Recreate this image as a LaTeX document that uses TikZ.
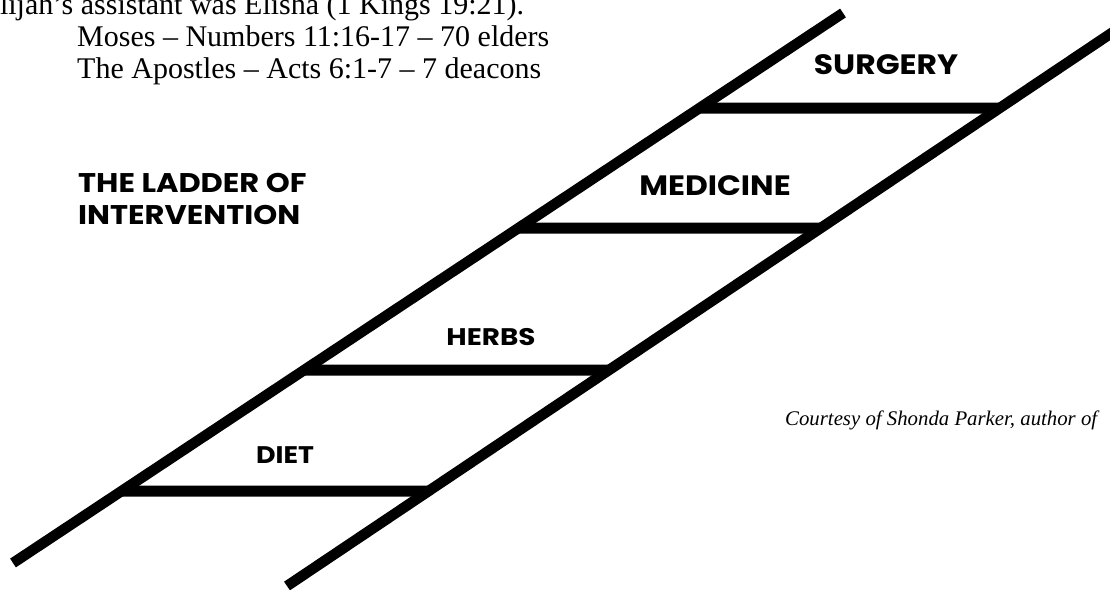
\documentclass[tikz,border=0pt]{standalone}
\usepackage{fontspec}
\usepackage{graphicx}
\setmainfont{Liberation Serif}
\newfontfamily\labelfont{Poppins}
\usetikzlibrary{calc}
\tikzset{
  rail/.style={line width=10.5pt, line cap=butt},
  rungline/.style={line width=11pt, line cap=butt},
  toptext/.style={anchor=base west, inner sep=0pt, font=\fontsize{30}{32}\selectfont},
  steplabel/.style={anchor=base, inner sep=0pt},
  titletext/.style={anchor=base west, inner sep=0pt, font=\labelfont\bfseries\fontsize{27}{32}\selectfont},
  credit/.style={anchor=base west, inner sep=0pt, font=\fontsize{20.8}{24}\selectfont\itshape}
}
\begin{document}
\begin{tikzpicture}[x=1pt,y=-1pt]
\useasboundingbox (0,0) rectangle (1110,589);
\fill[white] (0,0) rectangle (1110,589);
% rails
\coordinate (Lb) at (13,563);
\coordinate (Lt) at (843,13);
\coordinate (Rb) at (287,586);
\coordinate (Rt) at (1125,24);
\draw[rail] (Lb) -- (Lt);
\draw[rail] (Rb) -- (Rt);
% rung endpoints on the rails
\foreach \n/\y in {1/491,2/370,3/228,4/108}{
  \coordinate (A\n) at ($(Lb)!{(563-\y)/550}!(Lt)$);
  \coordinate (B\n) at ($(Rb)!{(586-\y)/562}!(Rt)$);
  \draw[rungline] (A\n) -- (B\n);
}
% top text
\node[toptext] (t1) at (-18.5,14) {Elijah’s assistant was Elisha (1 Kings 19:21).};
\node[toptext] (t2) at (77,46) {Moses – Numbers 11:16-17 – 70 elders};
\node[toptext] (t3) at (77,78) {The Apostles – Acts 6:1-7 – 7 deacons};
% title
\node[titletext] (title1) at (78,192) {\scalebox{1.13}[1]{THE LADDER OF}};
\node[titletext] (title2) at (78,224) {\scalebox{1.13}[1]{INTERVENTION}};
% step labels
\node[steplabel, font=\labelfont\bfseries\fontsize{28}{32}\selectfont] (surgery) at (886,74) {\scalebox{1.12}[1]{SURGERY}};
\node[steplabel, font=\labelfont\bfseries\fontsize{28}{32}\selectfont] (medicine) at (715,195) {\scalebox{1.12}[1]{MEDICINE}};
\node[steplabel, font=\labelfont\bfseries\fontsize{24}{28}\selectfont] (herbs) at (491,345) {\scalebox{1.16}[1]{HERBS}};
\node[steplabel, font=\labelfont\bfseries\fontsize{24}{28}\selectfont] (diet) at (285,463) {\scalebox{1.12}[1]{DIET}};
% credit
\node[credit] (courtesy) at (785,425) {Courtesy of Shonda Parker, author of};
\end{tikzpicture}
\end{document}
